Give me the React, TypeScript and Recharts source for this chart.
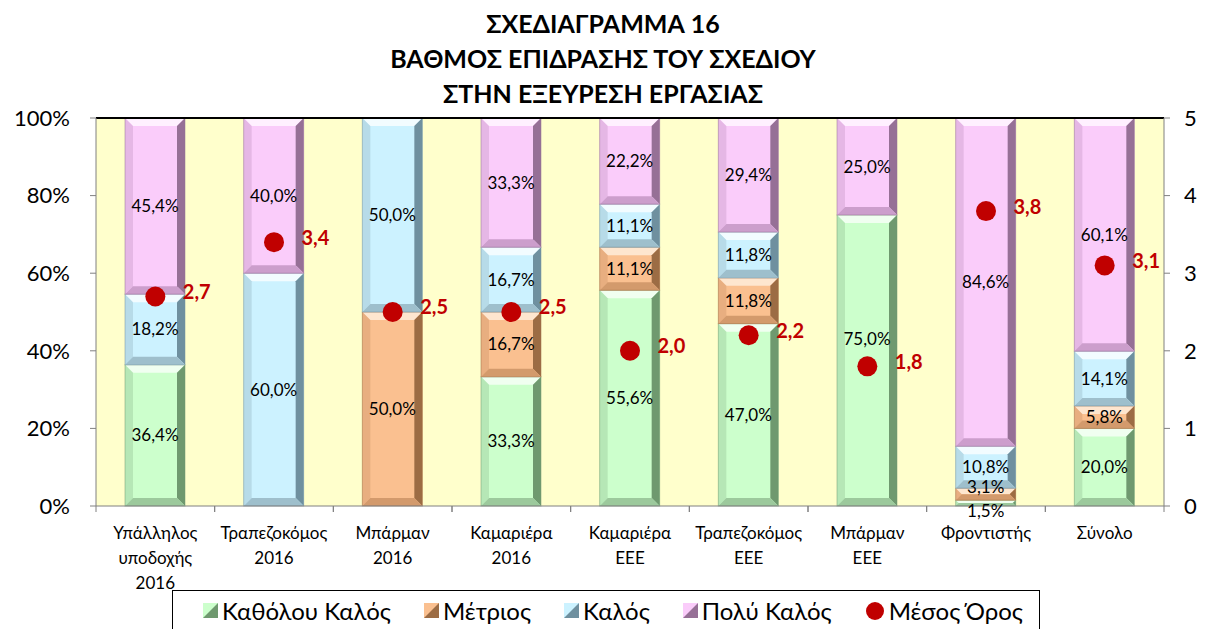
import React from 'react';
import {
  ComposedChart,
  Bar,
  Scatter,
  XAxis,
  YAxis,
  CartesianGrid,
  ReferenceLine,
  LabelList,
} from 'recharts';

const categories = [
  'Υπάλληλος|υποδοχής|2016',
  'Τραπεζοκόμος|2016',
  'Μπάρμαν|2016',
  'Καμαριέρα|2016',
  'Καμαριέρα|ΕΕΕ',
  'Τραπεζοκόμος|ΕΕΕ',
  'Μπάρμαν|ΕΕΕ',
  'Φροντιστής',
  'Σύνολο',
];
const notGood = [36.4, 0, 0, 33.3, 55.6, 47.0, 75.0, 1.5, 20.0];
const average = [0, 0, 50.0, 16.7, 11.1, 11.8, 0, 3.1, 5.8];
const good = [18.2, 60.0, 50.0, 16.7, 11.1, 11.8, 0, 10.8, 14.1];
const veryGood = [45.4, 40.0, 0, 33.3, 22.2, 29.4, 25.0, 84.6, 60.1];
const meanScore = [2.7, 3.4, 2.5, 2.5, 2.0, 2.2, 1.8, 3.8, 3.1];

const leftTicks = [0, 20, 40, 60, 80, 100];
const rightTicks = [0, 1, 2, 3, 4, 5];

const data = categories.map((c, i) => ({
  name: c,
  notGood: notGood[i],
  average: average[i],
  good: good[i],
  veryGood: veryGood[i],
  mean: meanScore[i],
}));

const FONT = 'Lato, "Open Sans", sans-serif';

const palette = {
  notGood: { base: '#CCFFCC', light: '#F0FFF0', dark: '#6F996F', side: '#9CC99C' },
  average: { base: '#FAC090', light: '#FEE6CF', dark: '#9C6C44', side: '#D39A6C' },
  good: { base: '#CCF2FF', light: '#F2FCFF', dark: '#6F909F', side: '#9EBFCC' },
  veryGood: { base: '#FACCFA', light: '#FFF0FF', dark: '#967096', side: '#CC9ECC' },
};

const makeBevel = (p: { base: string; light: string; dark: string; side: string }) => (props: any) => {
  const { x, y, width: w, height: h } = props;
  if (!h || h <= 0) return null;
  const b = Math.min(8, h / 2);
  return (
    <g>
      <rect x={x} y={y} width={w} height={h} fill={p.base} />
      <polygon points={`${x},${y} ${x + w},${y} ${x + w - b},${y + b} ${x + b},${y + b}`} fill={p.light} />
      <polygon points={`${x},${y} ${x + b},${y + b} ${x + b},${y + h - b} ${x},${y + h}`} fill={p.side} opacity={0.45} />
      <polygon points={`${x + w},${y} ${x + w - b},${y + b} ${x + w - b},${y + h - b} ${x + w},${y + h}`} fill={p.dark} />
      <polygon points={`${x},${y + h} ${x + b},${y + h - b} ${x + w - b},${y + h - b} ${x + w},${y + h}`} fill={p.side} />
      <rect x={x} y={y} width={w} height={h} fill="none" stroke={p.dark} strokeOpacity={0.5} strokeWidth={1} />
    </g>
  );
};

// label at segment centre; small segments get nudged, and a label sitting on
// the mean dot is lifted above it (as in the original)
const makePctLabel = (lower: number[], vals: number[]) => (props: any) => {
  const { x, y, width, height, value, index } = props;
  if (!value) return null;
  let cy = y + height / 2 + 6;
  if (height < 8) cy = y + height + 11;
  else if (height < 15) cy = y + height / 2 - 1;
  const midPct = lower[index] + vals[index] / 2;
  if (Math.abs(midPct - meanScore[index] * 20) < 5) cy -= 22;
  return (
    <text x={x + width / 2} y={cy} textAnchor="middle" fontFamily={FONT} fontSize={17} fill="#000">
      {value.toFixed(1).replace('.', ',')}%
    </text>
  );
};

const zeros = categories.map(() => 0);
const base2 = notGood;
const base3 = notGood.map((v, i) => v + average[i]);
const base4 = base3.map((v, i) => v + good[i]);

const meanLabel = (props: any) => {
  const { x, y, value } = props;
  return (
    <text x={x + 32} y={y + 7} fontFamily={FONT} fontSize={20} fontWeight="bold" fill="#C00000">
      {Number(value).toFixed(1).replace('.', ',')}
    </text>
  );
};

const Dot = (props: any) => {
  const { cx, cy } = props;
  return <circle cx={cx} cy={cy} r={10} fill="#C00000" />;
};

const band = 1068 / categories.length;

const CatTick = (props: any) => {
  const { x, y, payload } = props;
  const lines = String(payload.value).split('|');
  return (
    <g>
      <line x1={x - band / 2} x2={x - band / 2} y1={y - 8} y2={y - 2} stroke="#808080" />
      <line x1={x + band / 2} x2={x + band / 2} y1={y - 8} y2={y - 2} stroke="#808080" />
      <text x={x} y={y + 25} textAnchor="middle" fontFamily={FONT} fontSize={17} fill="#000">
        {lines.map((l, i) => (
          <tspan key={i} x={x} dy={i === 0 ? 0 : 25}>
            {l}
          </tspan>
        ))}
      </text>
    </g>
  );
};

const legendItems = [
  { label: 'Καθόλου Καλός', p: palette.notGood },
  { label: 'Μέτριος', p: palette.average },
  { label: 'Καλός', p: palette.good },
  { label: 'Πολύ Καλός', p: palette.veryGood },
];

export default function App() {
  return (
    <div style={{ position: 'absolute', left: 0, top: 0, width: 1206, height: 629, background: '#fff', overflow: 'hidden', fontFamily: FONT }}>
      <div style={{ position: 'absolute', top: 6, left: 0, width: 1206, textAlign: 'center', fontWeight: 'bold', fontSize: 25, lineHeight: '35px', color: '#000' }}>
        <div>ΣΧΕΔΙΑΓΡΑΜΜΑ 16</div>
        <div>ΒΑΘΜΟΣ ΕΠΙΔΡΑΣΗΣ ΤΟΥ ΣΧΕΔΙΟΥ</div>
        <div>ΣΤΗΝ ΕΞΕΥΡΕΣΗ ΕΡΓΑΣΙΑΣ</div>
      </div>
      <ComposedChart
        width={1206}
        height={629}
        data={data}
        margin={{ top: 118, right: 0, bottom: 43, left: 0 }}
        style={{ position: 'absolute', left: 0, top: 0 }}
      >
        <CartesianGrid horizontal={false} vertical={false} fill="#FFFFCC" stroke="none" yAxisId="left" />
        <XAxis
          dataKey="name"
          height={80}
          tick={<CatTick />}
          tickLine={false}
          axisLine={{ stroke: '#808080' }}
          interval={0}
        />
        <YAxis
          yAxisId="left"
          width={96}
          domain={[0, 100]}
          ticks={leftTicks}
          tickFormatter={(v) => `${v}%`}
          tick={{ fontSize: 22, fill: '#000', fontFamily: FONT }}
          axisLine={{ stroke: '#808080' }}
          tickLine={{ stroke: '#808080' }}
          tickSize={6}
          tickMargin={20}
        />
        <YAxis
          yAxisId="right"
          orientation="right"
          width={42}
          domain={[0, 5]}
          ticks={rightTicks}
          tick={{ fontSize: 22, fill: '#000', fontFamily: FONT }}
          axisLine={{ stroke: '#808080' }}
          tickLine={{ stroke: '#808080' }}
          tickSize={6}
          tickMargin={14}
        />
        <Bar yAxisId="left" dataKey="notGood" stackId="s" barSize={60} shape={makeBevel(palette.notGood)} isAnimationActive={false}>
          <LabelList dataKey="notGood" content={makePctLabel(zeros, notGood)} />
        </Bar>
        <Bar yAxisId="left" dataKey="average" stackId="s" barSize={60} shape={makeBevel(palette.average)} isAnimationActive={false}>
          <LabelList dataKey="average" content={makePctLabel(base2, average)} />
        </Bar>
        <Bar yAxisId="left" dataKey="good" stackId="s" barSize={60} shape={makeBevel(palette.good)} isAnimationActive={false}>
          <LabelList dataKey="good" content={makePctLabel(base3, good)} />
        </Bar>
        <Bar yAxisId="left" dataKey="veryGood" stackId="s" barSize={60} shape={makeBevel(palette.veryGood)} isAnimationActive={false}>
          <LabelList dataKey="veryGood" content={makePctLabel(base4, veryGood)} />
        </Bar>
        <ReferenceLine yAxisId="left" y={100} stroke="#000" strokeWidth={2} />
        <Scatter yAxisId="right" dataKey="mean" shape={<Dot />} isAnimationActive={false}>
          <LabelList dataKey="mean" content={meanLabel} />
        </Scatter>
      </ComposedChart>
      <div
        style={{
          position: 'absolute',
          left: 172,
          top: 590,
          width: 868,
          height: 60,
          border: '1px solid #000',
          boxSizing: 'border-box',
          display: 'flex',
          alignItems: 'flex-start',
          paddingTop: 5,
          paddingLeft: 30,
          gap: 33,
          fontSize: 24,
          color: '#000',
          background: '#fff',
        }}
      >
        {legendItems.map((it) => (
          <div key={it.label} style={{ display: 'flex', alignItems: 'center', gap: 4 }}>
            <svg width={15} height={15}>
              <rect x={0} y={0} width={15} height={15} fill={it.p.dark} />
              <polygon points="0,0 15,0 0,15" fill={it.p.base} />
            </svg>
            <span>{it.label}</span>
          </div>
        ))}
        <div style={{ display: 'flex', alignItems: 'center', gap: 4 }}>
          <svg width={20} height={20}>
            <circle cx={10} cy={10} r={9} fill="#C00000" />
          </svg>
          <span>Μέσος Όρος</span>
        </div>
      </div>
    </div>
  );
}
